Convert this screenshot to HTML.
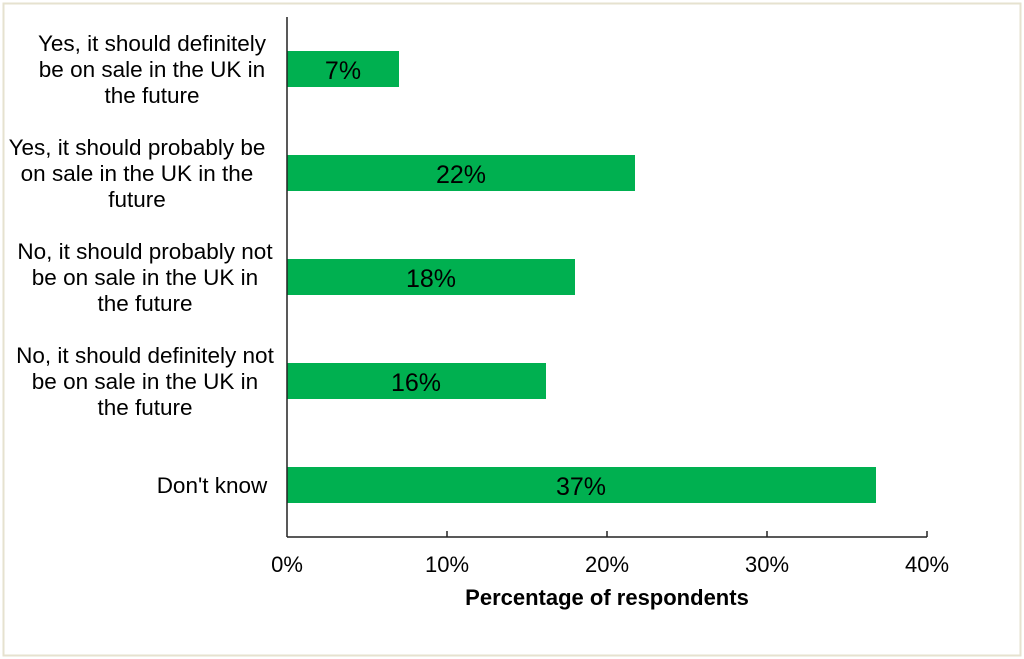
<!DOCTYPE html>
<html><head><style>
html,body{margin:0;padding:0;background:#fff;}
body{width:1024px;height:659px;overflow:hidden;position:relative;font-family:"Liberation Sans",Arial,sans-serif;}
</style></head><body>
<svg width="1024" height="659" xmlns="http://www.w3.org/2000/svg" style="position:absolute;left:0;top:0">
<rect x="3.5" y="3.5" width="1017" height="652" fill="#fff" stroke="#e6e2cf" stroke-width="2"/>
<g fill="#00b050">
<rect x="287" y="51" width="112" height="36"/>
<rect x="287" y="155" width="348" height="36"/>
<rect x="287" y="259" width="288" height="36"/>
<rect x="287" y="363" width="259" height="36"/>
<rect x="287" y="467" width="589" height="36"/>
</g>
<g stroke="#222" stroke-width="1.5" fill="none">
<line x1="287" y1="17" x2="287" y2="537"/>
<line x1="287" y1="537" x2="927" y2="537"/>
<line x1="447" y1="531" x2="447" y2="537"/>
<line x1="607" y1="531" x2="607" y2="537"/>
<line x1="767" y1="531" x2="767" y2="537"/>
<line x1="927" y1="531" x2="927" y2="537"/>
</g>
<g font-size="25" fill="#000" text-anchor="middle">
<text x="343" y="79">7%</text>
<text x="461" y="183">22%</text>
<text x="431" y="287">18%</text>
<text x="416" y="391">16%</text>
<text x="581" y="495">37%</text>
</g>
<g font-size="22" fill="#000" text-anchor="middle">
<text x="287" y="572">0%</text>
<text x="447" y="572">10%</text>
<text x="607" y="572">20%</text>
<text x="767" y="572">30%</text>
<text x="927" y="572">40%</text>
</g>
<text x="607" y="605" font-size="22" font-weight="bold" text-anchor="middle">Percentage of respondents</text>
<g font-size="22.5" fill="#000" text-anchor="middle">
<text x="152" y="51">Yes, it should definitely</text>
<text x="152" y="77">be on sale in the UK in</text>
<text x="152" y="103">the future</text>
<text x="137" y="155">Yes, it should probably be</text>
<text x="137" y="181">on sale in the UK in the</text>
<text x="137" y="207">future</text>
<text x="145" y="259">No, it should probably not</text>
<text x="145" y="285">be on sale in the UK in</text>
<text x="145" y="311">the future</text>
<text x="145" y="363">No, it should definitely not</text>
<text x="145" y="389">be on sale in the UK in</text>
<text x="145" y="415">the future</text>
<text x="212" y="493">Don't know</text>
</g>
</svg>
</body></html>
